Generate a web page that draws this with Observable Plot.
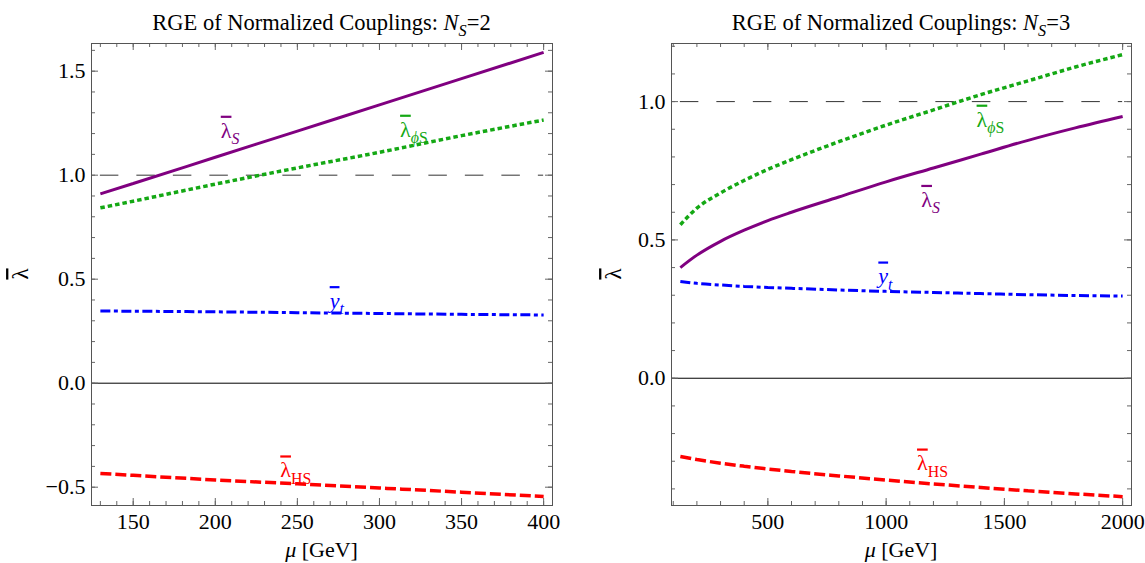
<!DOCTYPE html>
<html><head><meta charset="utf-8">
<script src="https://cdn.jsdelivr.net/npm/d3@7"></script>
<script src="https://cdn.jsdelivr.net/npm/@observablehq/plot@0.6"></script>
<style>
body{margin:0;background:#fff;}
#wrap{position:relative;width:1145px;height:563px;overflow:hidden;display:flex;}
#wrap svg{display:block;}
#wrap svg text{font-family:'Liberation Serif','Times New Roman','DejaVu Serif',serif !important;font-variant:normal !important;}
</style></head><body><div id="wrap"></div>
<script>
// ---------- data: N_S = 2 (left) ----------
const muL      = [130, 150, 200, 250, 300, 350, 400];
const lamSL    = [0.91, 0.96, 1.086, 1.212, 1.338, 1.464, 1.59];
const lamPhiSL = [0.843, 0.875, 0.957, 1.035, 1.11, 1.19, 1.265];
const ytL      = [0.347, 0.346, 0.343, 0.339, 0.335, 0.331, 0.328];
const lamHSL   = [-0.434, -0.443, -0.465, -0.484, -0.504, -0.524, -0.545];

// ---------- data: N_S = 3 (right) ----------
const muR      = [130, 200, 300, 400, 500, 600, 800, 1000, 1200, 1400, 1600, 1800, 2000];
const lamPhiSR = [0.555, 0.615, 0.67, 0.715, 0.755, 0.79, 0.855, 0.915, 0.97, 1.025, 1.075, 1.125, 1.17];
const lamSR    = [0.40, 0.445, 0.495, 0.535, 0.57, 0.60, 0.655, 0.71, 0.76, 0.81, 0.86, 0.905, 0.946];
const ytR      = [0.350, 0.343, 0.337, 0.332, 0.328, 0.325, 0.319, 0.314, 0.310, 0.306, 0.302, 0.299, 0.297];
const lamHSR   = [-0.283, -0.294, -0.307, -0.318, -0.328, -0.337, -0.353, -0.368, -0.382, -0.395, -0.407, -0.418, -0.428];

// ---------- ticks ----------
const xTicksL = [150, 200, 250, 300, 350, 400];
const yTicksL = [-0.5, 0, 0.5, 1, 1.5];
const xTicksR = [500, 1000, 1500, 2000];
const yTicksR = [0, 0.5, 1];

// ---------- curve labels (data coordinates) ----------
const labelsL = [
  {key: "@lamS", mu: 209, v: 1.214},
  {key: "@lamPhiS", mu: 321, v: 1.219},
  {key: "@yt", mu: 274, v: 0.395},
  {key: "@lamHS", mu: 249, v: -0.419}
];
const labelsR = [
  {key: "@lamPhiS", mu: 1441, v: 0.935},
  {key: "@lamS", mu: 1188, v: 0.645},
  {key: "@yt", mu: 997, v: 0.368},
  {key: "@lamHS", mu: 1196, v: -0.308}
];

const COLORS = {"@lamS": "#800080", "@lamPhiS": "#14a814", "@yt": "#0000ff", "@lamHS": "#ff0000"};
const RICH = {
  "@lamS": [{t: "λ", bar: true}, {t: "S", italic: true, sub: true}],
  "@lamPhiS": [{t: "λ", bar: true}, {t: "ϕ", italic: true, sub: true}, {t: "S", sub: true}],
  "@yt": [{t: "y", italic: true, bar: true}, {t: "t", italic: true, sub: true}],
  "@lamHS": [{t: "λ", bar: true}, {t: "HS", sub: true}]
};
const FONT = "'Liberation Serif','Times New Roman','DejaVu Serif',serif";

function fillRich(el, segs, size) {
  const t = d3.select(el); t.text(null);
  let cur = 0;
  for (const s of segs) {
    const target = s.sub ? size * 0.28 : 0;
    const ts = t.append("tspan").text(s.t);
    if (target !== cur) ts.attr("dy", target - cur);
    cur = target;
    if (s.italic) ts.attr("font-style", "italic");
    if (s.bar) ts.style("text-decoration", "overline");
    if (s.sub) ts.attr("font-size", size * 0.72);
  }
}

function makePanel(cfg) {
  const H = 563, mT = 43, mB = 58;
  const innerW = cfg.width - cfg.marginLeft - cfg.marginRight;
  const innerH = H - mT - mB;
  const inDom = (d, dom) => d >= dom[0] && d <= dom[1];
  const xMinor = d3.range(cfg.xMinor[0], cfg.xMinor[1] + 1e-9, cfg.xMinor[2]).filter(d => inDom(d, cfg.xDomain));
  const yMinor = d3.range(-10, 20).map(i => i / 10).filter(d => inDom(d, cfg.yDomain));
  const tickC = "#666";
  const marks = [
    Plot.ruleY([0], {stroke: "#000", strokeWidth: 1}),
    Plot.ruleY([1], {x1: cfg.mu[0], x2: cfg.mu[cfg.mu.length - 1], stroke: "#333", strokeWidth: 1, strokeDasharray: "18.5,18", strokeLinecap: "butt"}),
  ];
  for (const s of cfg.series) {
    const rows = s.values.map((v, i) => ({mu: cfg.mu[i], v}));
    marks.push(Plot.line(rows, {x: "mu", y: "v", stroke: s.stroke, strokeWidth: s.w, strokeDasharray: s.dash,
      strokeLinecap: "butt", strokeLinejoin: "miter", curve: "monotone-x"}));
  }
  marks.push(
    Plot.tickX(xMinor, {x: d => d, insetTop: innerH - 4, stroke: tickC}),
    Plot.tickX(cfg.xTicks, {x: d => d, insetTop: innerH - 7, stroke: tickC}),
    Plot.tickX(xMinor, {x: d => d, insetBottom: innerH - 4, stroke: tickC}),
    Plot.tickX(cfg.xTicks, {x: d => d, insetBottom: innerH - 7, stroke: tickC}),
    Plot.tickY(yMinor, {y: d => d, insetRight: innerW - 4, stroke: tickC}),
    Plot.tickY(cfg.yTicks, {y: d => d, insetRight: innerW - 7, stroke: tickC}),
    Plot.tickY(yMinor, {y: d => d, insetLeft: innerW - 4, stroke: tickC}),
    Plot.tickY(cfg.yTicks, {y: d => d, insetLeft: innerW - 7, stroke: tickC}),
    Plot.frame({stroke: "#555", strokeWidth: 1}),
    Plot.axisX({ticks: cfg.xTicks, tickSize: 0, tickPadding: 8, label: null, tickFormat: d => String(d), fontSize: 22, fontFamily: FONT}),
    Plot.axisY({ticks: cfg.yTicks, tickSize: 0, tickPadding: 6, label: null, tickFormat: d3.format(".1f"), fontSize: 22, fontFamily: FONT})
  );
  for (const l of cfg.labels) {
    marks.push(Plot.text([l], {x: "mu", y: "v", text: "key", fill: COLORS[l.key], fontSize: 22, fontFamily: FONT}));
  }
  const svg = Plot.plot({
    width: cfg.width, height: H,
    marginLeft: cfg.marginLeft, marginRight: cfg.marginRight, marginTop: mT, marginBottom: mB,
    x: {domain: cfg.xDomain}, y: {domain: cfg.yDomain},
    style: {fontFamily: FONT, fontSize: "22px", background: "white", color: "black", overflow: "visible"},
    marks
  });
  const s = d3.select(svg);
  s.selectAll("text").filter(function () { return RICH[this.textContent]; })
    .each(function () { fillRich(this, RICH[this.textContent], 22); });
  const cx = cfg.marginLeft + innerW / 2;
  const title = s.append("text").attr("x", cx).attr("y", 30).attr("text-anchor", "middle")
    .attr("font-size", 22.5).attr("fill", "#000");
  fillRich(title.node(), [{t: "RGE of Normalized Couplings: "}, {t: "N", italic: true}, {t: "S", italic: true, sub: true}, {t: "=" + cfg.ns}], 22.5);
  const xl = s.append("text").attr("x", cx).attr("y", 557).attr("text-anchor", "middle")
    .attr("font-size", 22).attr("fill", "#000");
  xl.append("tspan").attr("font-style", "italic").text("μ");
  xl.append("tspan").text(" [GeV]");
  s.append("text").attr("transform", `translate(${cfg.yLabelX},${mT + innerH / 2}) rotate(-90)`)
    .attr("text-anchor", "middle").attr("dy", "0.35em")
    .attr("font-size", 23).attr("fill", "#000")
    .append("tspan").style("text-decoration", "overline").text("λ");
  s.selectAll("text").attr("font-family", FONT).style("font-family", FONT);
  return svg;
}

const wrap = document.getElementById("wrap");
wrap.appendChild(makePanel({
  width: 572, marginLeft: 91, marginRight: 20,
  xDomain: [124.6, 405.4], yDomain: [-0.588, 1.633],
  mu: muL,
  series: [
    {values: lamSL, stroke: "#800080", w: 3, dash: null},
    {values: lamPhiSL, stroke: "#14a814", w: 3.5, dash: "4.5,3"},
    {values: ytL, stroke: "#0000ff", w: 3, dash: "10,3.5,4,3.5"},
    {values: lamHSL, stroke: "#ff0000", w: 3.5, dash: "11,4"}
  ],
  xTicks: xTicksL, yTicks: yTicksL, xMinor: [130, 400, 10],
  labels: labelsL, ns: 2, yLabelX: 20
}));
wrap.appendChild(makePanel({
  width: 573, marginLeft: 99, marginRight: 14,
  xDomain: [92.6, 2037.4], yDomain: [-0.46, 1.21],
  mu: muR,
  series: [
    {values: lamSR, stroke: "#800080", w: 3, dash: null},
    {values: lamPhiSR, stroke: "#14a814", w: 3.5, dash: "4.5,3"},
    {values: ytR, stroke: "#0000ff", w: 3, dash: "10,3.5,4,3.5"},
    {values: lamHSR, stroke: "#ff0000", w: 3.5, dash: "11,4"}
  ],
  xTicks: xTicksR, yTicks: yTicksR, xMinor: [100, 2000, 100],
  labels: labelsR, ns: 3, yLabelX: 41
}));
</script></body></html>
